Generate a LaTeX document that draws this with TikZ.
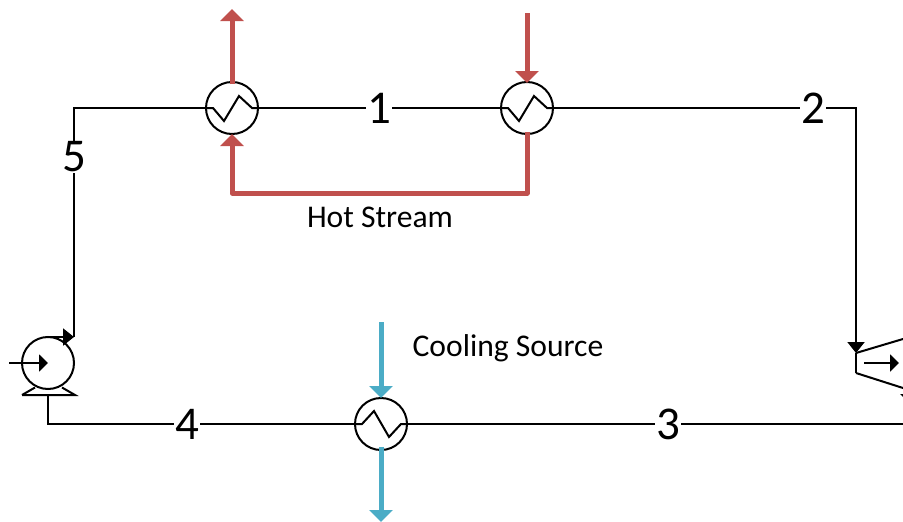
\documentclass[tikz,border=0pt]{standalone}
\usepackage{fontspec}
\setmainfont{Carlito}
\usetikzlibrary{arrows.meta}
\definecolor{hotc}{HTML}{C0504D}
\definecolor{coolc}{HTML}{4BACC6}
\tikzset{
  unit/.style={circle,draw=black,line width=2pt,minimum size=52pt,inner sep=0pt,fill=none},
  flow/.style={draw=black,line width=2pt,line join=miter},
  tiptri/.style={-{Triangle[length=11pt,width=17pt]}},
  hot/.style={draw=hotc,line width=5pt,line join=round,-{Triangle[length=12pt,width=23pt]}},
  cool/.style={draw=coolc,line width=5pt,-{Triangle[length=12pt,width=23pt]}},
  num/.style={fill=white,font=\fontsize{47}{47}\selectfont,inner sep=1pt,text=black},
  captxt/.style={font=\fontsize{31.6}{32}\selectfont,text=black,inner sep=0pt},
}
\begin{document}
\begin{tikzpicture}[x=1pt,y=-1pt]
\useasboundingbox (0,0) rectangle (903,522);
\begin{scope}
\clip (0,0) rectangle (903,522);
% units
\node[unit] (hxa) at (232,108) {};
\node[unit] (hxb) at (527,108) {};
\node[unit] (hxc) at (381,424) {};
\node[unit] (pump) at (48,363) {};
\coordinate (pumpbase) at (48,395);
\coordinate (pumptop) at (48,337);
\coordinate (corner5) at (74,108);
\coordinate (corner5b) at (74,337);
\coordinate (corner4) at (48,424);
\coordinate (corner2) at (856,108);
\coordinate (turbin) at (856,353);
\coordinate (turblow) at (856,373);
\coordinate (right3) at (903,424);
% process lines
\draw[flow] (hxa.west) -- (corner5) -- (corner5b);
\draw[flow,tiptri] (pumptop) -- (corner5b);
\draw[flow] (hxa.east) -- (hxb.west);
\draw[flow,tiptri] (hxb.east) -- (corner2) -- (turbin);
\draw[flow] (turbin) -- (turblow);
\draw[flow] (hxc.east) -- (right3);
\draw[flow] (hxc.west) -- (corner4) -- (pumpbase);
% zigzags
\draw[flow] (hxa.west) -- (213,108) -- (224,121) -- (239,96) -- (252,108) -- (hxa.east);
\draw[flow] (hxb.west) -- (508,108) -- (519,121) -- (534,96) -- (547,108) -- (hxb.east);
\draw[flow] (hxc.west) -- (362,424) -- (374,411) -- (389,437) -- (401,424) -- (hxc.east);
% pump
\draw[flow] (22,395) -- (75,395) -- (62,387.5);
\draw[flow] (22,395) -- (35,387.5);
\coordinate (pumpin) at (9,363);
\draw[flow,-{Triangle[length=9pt,width=17pt]}] (pumpin) -- (pump.center);
% turbine
\coordinate (turbtr) at (903,339);
\coordinate (turbbr) at (903,388);
\coordinate (turbarra) at (864,363);
\coordinate (turbarrb) at (899,363);
\draw[flow] (turbin) -- (turbtr);
\draw[flow] (turblow) -- (turbbr);
\draw[flow,-{Triangle[length=9pt,width=17pt]}] (turbarra) -- (turbarrb);
\fill (900,394) -- (903,394) -- (903,397) -- cycle;
% hot stream
\coordinate (hotout) at (232,9);
\coordinate (hotin) at (527,13);
\coordinate (hotbl) at (232,193);
\coordinate (hotbr) at (527,193);
\draw[hot] (232,84) -- (hotout);
\draw[hot] (hotin) -- (527,83);
\draw[hot] (527,132) -- (hotbr) -- (hotbl) -- (232,134);
% cooling
\coordinate (coolin) at (381,322);
\coordinate (coolout) at (381,522);
\draw[cool] (coolin) -- (381,398);
\draw[cool] (381,447) -- (coolout);
% labels
\node[num] (n1) at (379,108) {1};
\node[num] (n2) at (813,108) {2};
\node[num] (n3) at (668,424) {3};
\node[num] (n4) at (187,424) {4};
\node[num] (n5) at (74,157) {5};
\node[captxt] (hs) at (380,217) {Hot Stream};
\node[captxt] (cs) at (508,348) {Cooling Source};
\end{scope}
\end{tikzpicture}
\end{document}
